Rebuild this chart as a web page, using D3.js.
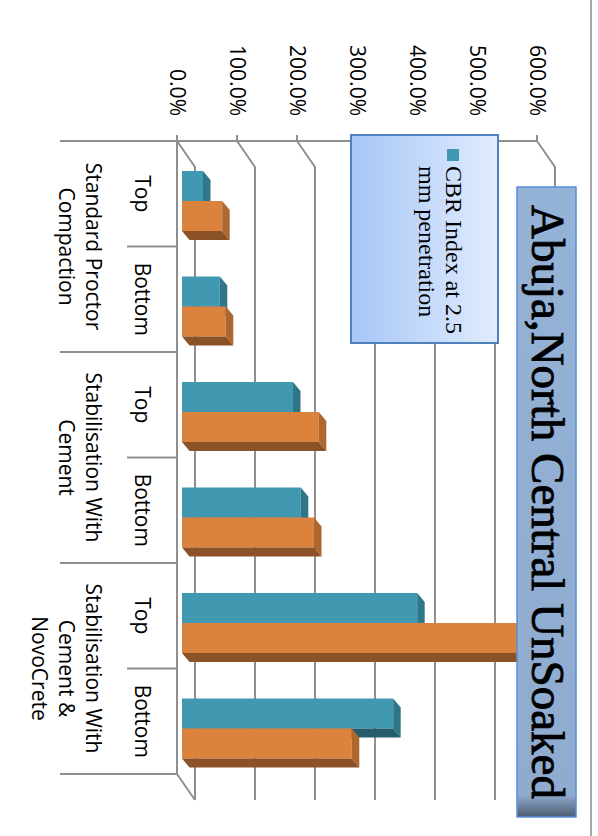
<!DOCTYPE html>
<html>
<head>
<meta charset="utf-8">
<script src="https://cdn.jsdelivr.net/npm/d3@7"></script>
<style>
body { margin: 0; background: #fff; }
svg { display: block; }
</style>
</head>
<body>
<div id="chart"></div>
<script>
var categories = ["Top", "Bottom", "Top", "Bottom", "Top", "Bottom"];
var groupLabels = [["Standard Proctor", "Compaction"], ["Stabilisation With", "Cement"], ["Stabilisation With", "Cement &", "NovoCrete"]];
var seriesNames = ["CBR Index at 2.5 mm penetration", "CBR Index at 5.0 mm penetration"];
var cbr25 = [0.35, 0.63, 1.85, 1.98, 3.92, 3.52];
var cbr50 = [0.67, 0.73, 2.28, 2.20, 5.65, 2.83];
var valueTicks = [0, 1, 2, 3, 4, 5, 6];
var chartTitle = "Abuja,North Central UnSoaked";

var W = 598, H = 836;
var gridColor = "#8f8f8f";
var colors = [
    {front: "#4198b1", top: "#2f7688", side: "#245d6c"},
    {front: "#db823c", top: "#ad672f", side: "#8b5227"}
];

// the chart is drawn upright (836 wide, 598 high) and turned 90deg clockwise
var svg = d3.select("#chart").append("svg")
    .attr("width", W)
    .attr("height", H);

var defs = svg.append("defs");
var tg = defs.append("linearGradient").attr("id", "titleGrad")
    .attr("x1", 0).attr("y1", 0).attr("x2", 1).attr("y2", 0);
tg.append("stop").attr("offset", "0%").attr("stop-color", "#95b3d7");
tg.append("stop").attr("offset", "96.5%").attr("stop-color", "#8fabcf");
tg.append("stop").attr("offset", "100%").attr("stop-color", "#4e5d72");
var lg = defs.append("linearGradient").attr("id", "legendGrad")
    .attr("x1", 0).attr("y1", 0).attr("x2", 0).attr("y2", 1);
lg.append("stop").attr("offset", "0%").attr("stop-color", "#e1ecfc");
lg.append("stop").attr("offset", "100%").attr("stop-color", "#a6c6f8");

var g = svg.append("g")
    .attr("transform", "translate(" + W + ",0) rotate(90)");

var x = d3.scaleBand().domain(d3.range(categories.length)).range([141, 774]);
var xs = d3.scaleBand().domain([0, 1]).range([30, 90]);
var y = d3.scaleLinear().domain([0, 6]).range([421, 61]);
var wall = {dx: 26, dy: -18};    // side wall / back wall depth
var depth = {dx: 9, dy: -7.5};   // bar depth
var barLift = -5;

// chart area border (right edge in the picture)
g.append("line")
    .attr("x1", 0).attr("x2", H)
    .attr("y1", 7).attr("y2", 7)
    .style("stroke", "#8a8a8a").style("stroke-width", 1.5);

// grid lines on side wall and back wall
g.append("g").selectAll("path")
    .data(valueTicks)
    .enter().append("path")
    .attr("d", function (t) {
        var yy = y(t);
        return "M" + x.range()[0] + "," + yy +
            "L" + (x.range()[0] + wall.dx) + "," + (yy + wall.dy) +
            "L" + (x.range()[1] + wall.dx) + "," + (yy + wall.dy);
    })
    .style("fill", "none").style("stroke", gridColor).style("stroke-width", 2);

// floor edge
g.append("path")
    .attr("d", "M" + x.range()[1] + "," + y(0) + "L" + (x.range()[1] + wall.dx) + "," + (y(0) + wall.dy))
    .style("fill", "none").style("stroke", gridColor).style("stroke-width", 2);

// axes
g.append("path")
    .attr("d", "M" + x.range()[0] + "," + y(0) + "L" + x.range()[1] + "," + y(0))
    .style("stroke", gridColor).style("stroke-width", 2);
g.append("path")
    .attr("d", "M" + x.range()[0] + "," + y(0) + "L" + x.range()[0] + "," + y(6))
    .style("stroke", gridColor).style("stroke-width", 2);

g.append("g").selectAll("line")
    .data(valueTicks)
    .enter().append("line")
    .attr("x1", x.range()[0] - 6).attr("x2", x.range()[0])
    .attr("y1", function (t) { return y(t); })
    .attr("y2", function (t) { return y(t); })
    .style("stroke", gridColor).style("stroke-width", 2);

g.append("g").selectAll("text")
    .data(valueTicks)
    .enter().append("text")
    .attr("x", 116)
    .attr("y", function (t) { return y(t); })
    .attr("dy", "0.35em")
    .style("text-anchor", "end")
    .style("font-family", "Open Sans")
    .style("font-size", "21px")
    .style("fill", "#000")
    .text(function (t) { return d3.format(".1%")(t); });

// category tick lines: short between Top/Bottom, long between groups
var bounds = d3.range(categories.length + 1);
g.append("g").selectAll("line")
    .data(bounds)
    .enter().append("line")
    .attr("x1", function (i) { return i < categories.length ? x(i) : x.range()[1]; })
    .attr("x2", function (i) { return i < categories.length ? x(i) : x.range()[1]; })
    .attr("y1", y(0))
    .attr("y2", function (i) { return i % 2 == 0 ? 538 : 471; })
    .style("stroke", gridColor).style("stroke-width", 2);

g.append("g").selectAll("text")
    .data(categories)
    .enter().append("text")
    .attr("x", function (d, i) { return x(i) + x.bandwidth() / 2; })
    .attr("y", 463)
    .style("text-anchor", "middle")
    .style("font-family", "Open Sans")
    .style("font-size", "21px")
    .text(function (d) { return d; });

var gl = g.append("g").selectAll("text")
    .data(groupLabels)
    .enter().append("text")
    .attr("x", function (d, i) { return x(i * 2) + x.bandwidth(); })
    .attr("y", 512)
    .style("text-anchor", "middle")
    .style("font-family", "Open Sans")
    .style("font-size", "21px");
gl.each(function (d, i) {
    var t = d3.select(this);
    d.forEach(function (line, j) {
        t.append("tspan")
            .attr("x", x(i * 2) + x.bandwidth())
            .attr("y", 512 + j * 27)
            .text(line);
    });
});

// 3D columns
var series = [cbr25, cbr50];
var bars = g.append("g");
categories.forEach(function (c, i) {
    series.forEach(function (vals, s) {
        var x0 = x(i) + xs(s), x1 = x0 + xs.bandwidth();
        var yb = y(0) + barLift, yt = y(vals[i]) + barLift;
        var bar = bars.append("g").attr("class", "bar s" + s);
        bar.append("rect")
            .attr("x", x0).attr("y", yt)
            .attr("width", x1 - x0).attr("height", yb - yt)
            .style("fill", colors[s].front);
        bar.append("path")
            .attr("d", "M" + x0 + "," + yt + "L" + (x0 + depth.dx) + "," + (yt + depth.dy) +
                "L" + (x1 + depth.dx) + "," + (yt + depth.dy) + "L" + x1 + "," + yt + "Z")
            .style("fill", colors[s].top);
        bar.append("path")
            .attr("d", "M" + x1 + "," + yt + "L" + (x1 + depth.dx) + "," + (yt + depth.dy) +
                "L" + (x1 + depth.dx) + "," + (yb + depth.dy) + "L" + x1 + "," + yb + "Z")
            .style("fill", colors[s].side);
    });
});

// legend (only first series shows, the box cuts the rest)
var legend = g.append("g");
legend.append("rect")
    .attr("x", 135).attr("y", 100)
    .attr("width", 208).attr("height", 147)
    .style("fill", "url(#legendGrad)")
    .style("stroke", "#4f81bd").style("stroke-width", 2);
legend.append("rect")
    .attr("x", 149).attr("y", 139)
    .attr("width", 12).attr("height", 12)
    .style("fill", colors[0].front);
var lt = legend.append("text")
    .style("font-family", "Liberation Serif")
    .style("font-size", "24px");
lt.append("tspan").attr("x", 166).attr("y", 152).text("CBR Index at 2.5");
lt.append("tspan").attr("x", 166).attr("y", 179).text("mm penetration");

// title
g.append("rect")
    .attr("x", 187).attr("y", 22)
    .attr("width", 630).attr("height", 59)
    .style("fill", "url(#titleGrad)")
    .style("stroke", "#5b8ed6").style("stroke-width", 1.5);
g.append("text")
    .attr("x", 502).attr("y", 66)
    .style("text-anchor", "middle")
    .style("font-family", "Liberation Serif")
    .style("font-size", "47px")
    .style("fill", "#000")
    .style("stroke", "#000")
    .style("stroke-width", 0.9)
    .text(chartTitle);
</script>
</body>
</html>
